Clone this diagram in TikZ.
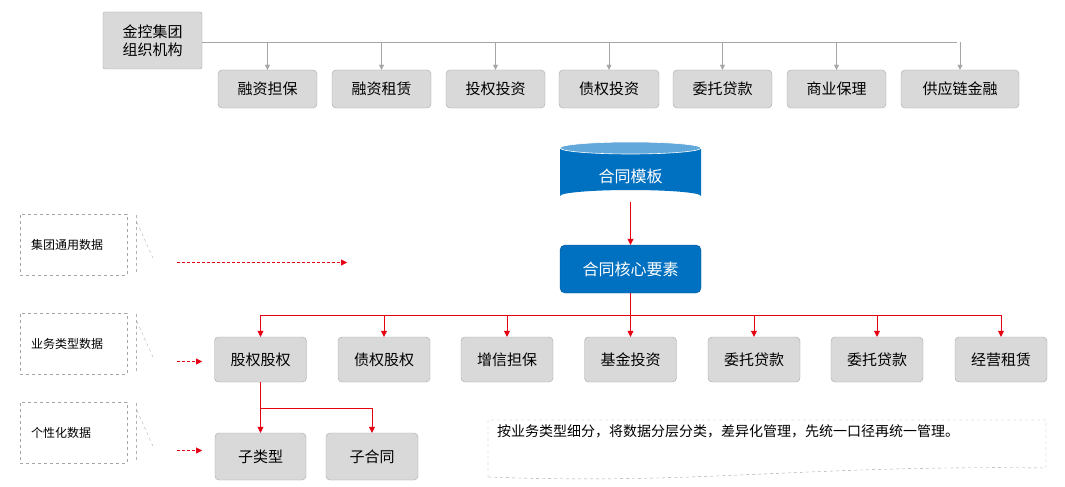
\documentclass[tikz,border=0pt]{standalone}
\usepackage{fontspec}
\setmainfont{Noto Sans CJK SC}
\usetikzlibrary{arrows.meta,positioning,shapes.geometric}
\definecolor{boxgray}{HTML}{D9D9D9}
\definecolor{boxline}{HTML}{A6A6A6}
\definecolor{mainblue}{HTML}{0070C0}
\definecolor{topblue}{HTML}{62A8DA}
\definecolor{linkred}{HTML}{E60012}
\tikzset{
  gbox/.style={draw=boxline, fill=boxgray, rounded corners=4pt, minimum height=38pt,
    inner sep=0pt, font=\fontsize{15}{18}\selectfont},
  bbox/.style={draw=mainblue!80!black, fill=mainblue, rounded corners=5pt, text=white,
    minimum width=141pt, minimum height=48pt, font=\fontsize{16}{19}\selectfont},
  dbox/.style={draw=gray!70, dashed, minimum width=107pt, minimum height=61pt,
    font=\fontsize{12}{14}\selectfont},
  garrow/.style={draw=gray!70, -{Triangle[length=5pt,width=5pt]}},
  rarrow/.style={draw=linkred, -{Triangle[length=6pt,width=6pt]}},
  rdash/.style={rarrow, densely dashed}
}
\begin{document}
\begin{tikzpicture}[x=1pt,y=-1pt]
  \useasboundingbox (0,0) rectangle (1065,487);

  % top row
  \node[gbox, minimum width=99pt, minimum height=57pt, rounded corners=2pt, align=left] (group)
    at (152.5,40.5) {金控集团\\组织机构};
  \coordinate (busend) at (957,42);
  \draw[gray!70] (group.east |- busend) -- (busend);
  \foreach \name/\cx/\w/\txt in {rzdb/267.5/99/融资担保, rzzl/381.5/99/融资租赁,
      tqtz/495.5/99/投权投资, zqtz/609/100/债权投资, wtdk/722.5/99/委托贷款,
      sybl/836.5/99/商业保理, gyljr/960/118/供应链金融} {
    \node[gbox, minimum width=\w pt] (\name) at (\cx,89) {\txt};
    \draw[garrow] (\cx,42) -- (\name.north);
  }

  % template and core
  \fill[mainblue] (560,148) -- (560,196) arc[x radius=70.5, y radius=6, start angle=180, end angle=360]
    -- (701,148) -- cycle;
  \fill[topblue, draw=white, line width=0.6pt] (630.5,148) ellipse[x radius=70.5, y radius=6];
  \node[text=white, font=\fontsize{16}{19}\selectfont] (tpl) at (630.5,176) {合同模板};
  \coordinate (tplbot) at (630.5,202);
  \node[bbox] (core) at (630.5,269) {合同核心要素};
  \draw[rarrow] (tplbot) -- (core.north);

  % business types
  \coordinate (bus) at (630.5,315);
  \draw[linkred] (core.south) -- (bus);
  \draw[linkred] (260.5,315) -- (1001,315);
  \foreach \name/\cx/\txt in {gqgq/260.5/股权股权, zqgq/384/债权股权, zxdb/507/增信担保,
      jjtz/630.5/基金投资, wtdka/754/委托贷款, wtdkb/877/委托贷款, jyzl/1001/经营租赁} {
    \node[gbox, minimum width=92pt, minimum height=45pt] (\name) at (\cx,359.5) {\txt};
    \draw[rarrow] (\cx,315) -- (\name.north);
  }

  % sub items
  \node[gbox, minimum width=91pt, minimum height=47pt] (sublx) at (260.5,456.5) {子类型};
  \node[gbox, minimum width=92pt, minimum height=47pt] (subht) at (372,456.5) {子合同};
  \coordinate (split) at (260.5,408);
  \draw[linkred] (gqgq.south) -- (split);
  \draw[rarrow] (split) -- (sublx.north);
  \draw[rarrow] (split) -| (subht.north);

  % data levels
  \foreach \name/\cy/\len/\txt in {jtty/244.5/347/集团通用数据, ywlx/343.5/202/业务类型数据,
      gxh/432.5/202/个性化数据} {
    \node[dbox, text width=85pt] (\name) at (73.5,\cy) {\txt};
    \draw[gray!60, dashed] (136,\cy-30) -- (136,\cy+30);
    \draw[gray!60, dashed] (137,\cy-22) -- (154,\cy+16);
    \coordinate (\name a) at (177,\cy+18);
    \coordinate (\name b) at (\len,\cy+18);
    \draw[rdash] (\name a) -- (\name b);
  }

  % note
  \draw[gray!70, dashed] (488,477) -- (488,420) -- (1046,420) -- (1046,468)
    .. controls (800,465) and (700,485) .. (488,477);
  \node[anchor=north west, text width=550pt, font=\fontsize{14}{22}\selectfont, inner sep=0pt]
    (note) at (497,424) {按业务类型细分，将数据分层分类，差异化管理，先统一口径再统一管理。};
\end{tikzpicture}
\end{document}
